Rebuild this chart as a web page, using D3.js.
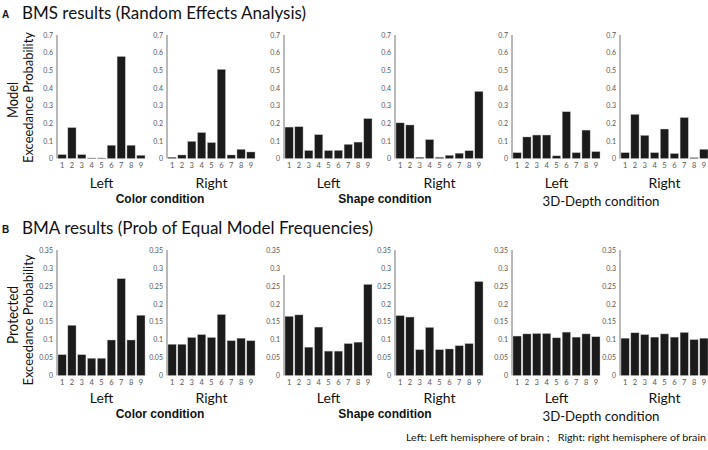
<!DOCTYPE html>
<html><head><meta charset="utf-8">
<script src="https://cdn.jsdelivr.net/npm/d3@7"></script>
<style>body{margin:0;background:#fff}</style>
</head><body>
<svg id="c" width="708" height="450"></svg>
<script>
// ---- data ----
const models = ["1","2","3","4","5","6","7","8","9"];
const hemis = ["Left","Right","Left","Right","Left","Right"];
const conditions = ["Color condition","Shape condition","3D-Depth condition"];
const bmsTicks = [0,0.1,0.2,0.3,0.4,0.5,0.6,0.7];
const bmaTicks = [0,0.05,0.1,0.15,0.2,0.25,0.3,0.35];
// Panel A: BMS exceedance probability
const bmsColorLeft  = [0.022,0.175,0.022,0.003,0.003,0.075,0.578,0.075,0.018];
const bmsColorRight = [0.007,0.020,0.097,0.147,0.090,0.505,0.020,0.052,0.037];
const bmsShapeLeft  = [0.178,0.180,0.045,0.135,0.045,0.046,0.080,0.093,0.226];
const bmsShapeRight = [0.202,0.190,0.007,0.107,0.007,0.018,0.030,0.044,0.380];
const bmsDepthLeft  = [0.033,0.122,0.133,0.133,0.015,0.265,0.033,0.161,0.039];
const bmsDepthRight = [0.033,0.250,0.131,0.033,0.167,0.028,0.232,0.005,0.052];
// Panel B: BMA protected exceedance probability
const bmaColorLeft  = [0.058,0.140,0.058,0.048,0.048,0.099,0.270,0.099,0.168];
const bmaColorRight = [0.087,0.087,0.106,0.114,0.106,0.170,0.097,0.104,0.097];
const bmaShapeLeft  = [0.165,0.169,0.079,0.135,0.068,0.068,0.089,0.093,0.254];
const bmaShapeRight = [0.167,0.163,0.072,0.134,0.072,0.074,0.083,0.089,0.262];
const bmaDepthLeft  = [0.110,0.116,0.117,0.117,0.105,0.121,0.107,0.116,0.108];
const bmaDepthRight = [0.104,0.119,0.114,0.107,0.116,0.107,0.120,0.100,0.104];

const bmsSeries = [bmsColorLeft,bmsColorRight,bmsShapeLeft,bmsShapeRight,bmsDepthLeft,bmsDepthRight];
const bmaSeries = [bmaColorLeft,bmaColorRight,bmaShapeLeft,bmaShapeRight,bmaDepthLeft,bmaDepthRight];

// ---- layout ----
const svg = d3.select("#c");
const panelX = [57,167,284,395,512,620];
const panelW = 87;
const SANS = "Lato, 'Open Sans', sans-serif";
const ARIAL = "'Liberation Sans', Arial, sans-serif";

function row(series, ticks, yTop, yBot, axisTops, tickFmt){
  const y = d3.scaleLinear().domain([0, ticks[ticks.length-1]]).range([yBot, yTop]);
  series.forEach((vals, i) => {
    const x0 = panelX[i];
    const g = svg.append("g");
    const x = d3.scaleBand().domain(models).range([x0+1, x0+panelW+1]).paddingInner(0.17).paddingOuter(0.0);
    g.selectAll("rect").data(vals).join("rect")
      .attr("x",(d,j)=>x(models[j])).attr("width",x.bandwidth())
      .attr("y",d=>y(d)).attr("height",d=>yBot-y(d))
      .attr("fill","#1b1b1b").attr("stroke","#bbb").attr("stroke-width",0.4);
    const ya = d3.axisLeft(y).tickValues(ticks).tickSize(0).tickPadding(4).tickFormat(tickFmt);
    const ag = g.append("g").attr("transform",`translate(${x0},0)`).call(ya);
    ag.select(".domain").remove();
    ag.append("line").attr("x1",0).attr("x2",0).attr("y1",y(axisTops[i])).attr("y2",yBot)
      .attr("stroke","#8a8a8a").attr("stroke-width",1.2);
    ag.selectAll("text").attr("font-family",SANS).attr("font-size",7).attr("fill","#555");
    const xa = d3.axisBottom(x).tickSize(0).tickPadding(4);
    const xg = g.append("g").attr("transform",`translate(0,${yBot})`).call(xa);
    xg.select(".domain").remove();
    xg.selectAll("text").attr("font-family",SANS).attr("font-size",7.5).attr("fill","#555");
  });
}

row(bmsSeries, bmsTicks, 35, 158.5, [0.7,0.7,0.7,0.7,0.7,0.7], d3.format(""));
row(bmaSeries, bmaTicks, 250, 375.5, [0.35,0.35,0.28,0.35,0.35,0.35], d3.format(""));

// hemisphere labels
[188, 403].forEach(yb => {
  hemis.forEach((h,i)=>{
    svg.append("text").attr("x",panelX[i]+panelW/2+1).attr("y",yb)
      .attr("text-anchor","middle").attr("font-family",SANS).attr("font-size",14).attr("fill","#111").text(h);
  });
});

// condition labels
const condX = [160, 385, 601];
function conds(yb, yb3){
  svg.append("text").attr("x",condX[0]).attr("y",yb).attr("text-anchor","middle")
    .attr("font-family",ARIAL).attr("font-weight","bold").attr("font-size",12).attr("fill","#111").text(conditions[0]);
  svg.append("text").attr("x",condX[1]).attr("y",yb).attr("text-anchor","middle")
    .attr("font-family",ARIAL).attr("font-weight","bold").attr("font-size",12).attr("fill","#111").text(conditions[1]);
  svg.append("text").attr("x",condX[2]).attr("y",yb3).attr("text-anchor","middle")
    .attr("font-family",SANS).attr("font-size",14).attr("fill","#111")
    .attr("textLength",117).attr("lengthAdjust","spacingAndGlyphs").text(conditions[2]);
}
conds(203, 206);
conds(418, 421);

// section titles
function title(letter, txt, yb, x1){
  svg.append("text").attr("x",2).attr("y",yb-1).attr("font-family",ARIAL).attr("font-weight","bold")
    .attr("font-size",10).attr("fill","#111").text(letter);
  svg.append("text").attr("x",22).attr("y",yb).attr("font-family",SANS).attr("font-size",17)
    .attr("fill","#111").attr("textLength",x1-22).attr("lengthAdjust","spacingAndGlyphs").text(txt);
}
title("A","BMS results (Random Effects Analysis)",19,306);
title("B","BMA results (Prob of Equal Model Frequencies)",234,373);

// y-axis titles
function ytitle(l1, len1, cy1, l2, cy2){
  svg.append("text").attr("transform",`translate(18,${cy1}) rotate(-90)`).attr("text-anchor","middle")
    .attr("font-family",SANS).attr("font-size",15).attr("fill","#111")
    .attr("textLength",len1).attr("lengthAdjust","spacingAndGlyphs").text(l1);
  svg.append("text").attr("transform",`translate(33,${cy2}) rotate(-90)`).attr("text-anchor","middle")
    .attr("font-family",SANS).attr("font-size",14).attr("fill","#111")
    .attr("textLength",131).attr("lengthAdjust","spacingAndGlyphs").text(l2);
}
ytitle("Model",36,100,"Exceedance Probability",97.5);
ytitle("Protected",58,315,"Exceedance Probability",320);

// footnote
svg.append("text").attr("x",706).attr("y",441).attr("text-anchor","end")
  .attr("font-family",SANS).attr("font-size",10).attr("fill","#111")
  .attr("xml:space","preserve").attr("textLength",300).attr("lengthAdjust","spacingAndGlyphs")
  .text("Left: Left hemisphere of brain ;   Right: right hemisphere of brain");
</script>
</body></html>
